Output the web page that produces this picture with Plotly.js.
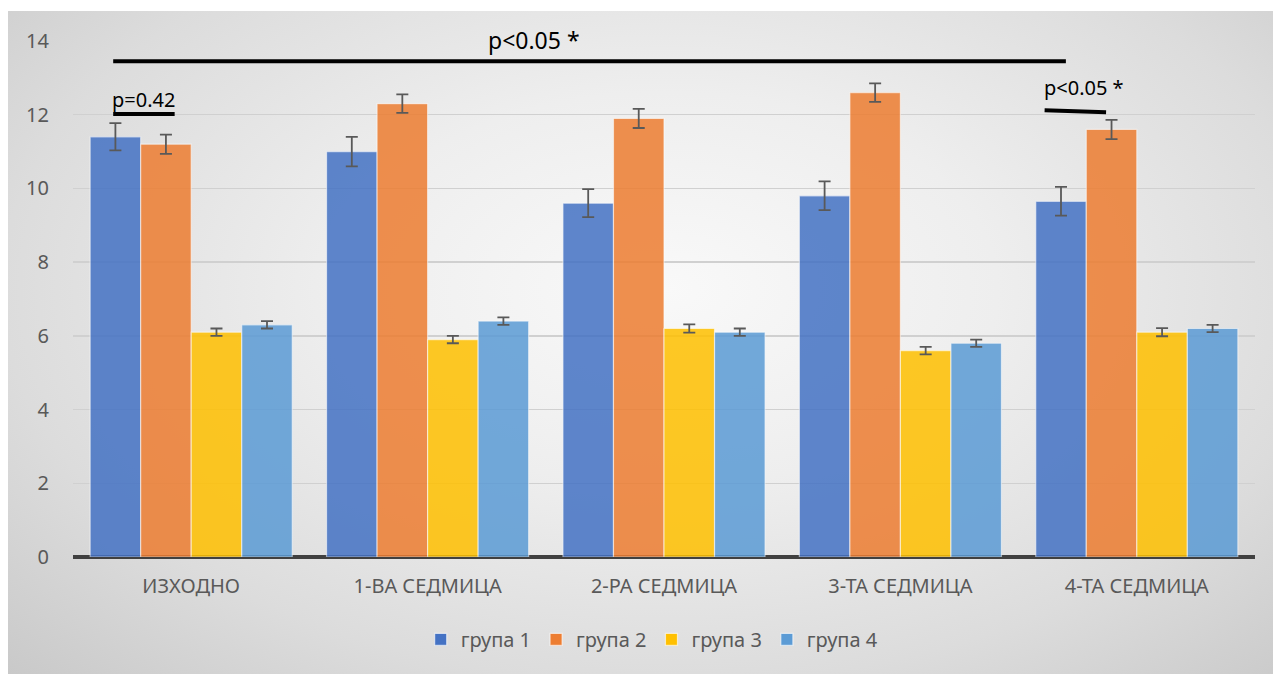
<!DOCTYPE html>
<html>
<head>
<meta charset="utf-8">
<script src="https://cdn.plot.ly/plotly-3.0.1.min.js"></script>
<style>
  html, body { margin: 0; padding: 0; background: #ffffff; }
  #wrap { position: relative; width: 1273px; height: 674px; overflow: hidden; }
  #bg { position: absolute; left: 8px; top: 11px; width: 1265px; height: 663px;
        background: radial-gradient(ellipse 75% 85% at 52% 42%, #f9f9f9 0%, #eeeeee 35%, #dcdcdc 70%, #c7c7c7 100%); }
  #chart { position: absolute; left: 0; top: 0; width: 1273px; height: 674px; }
</style>
</head>
<body>
<div id="wrap"><div id="bg"></div><div id="chart"></div></div>
<script>
const categories = ['ИЗХОДНО', '1-ВА СЕДМИЦА', '2-РА СЕДМИЦА', '3-ТА СЕДМИЦА', '4-ТА СЕДМИЦА'];
const seriesNames = ['група 1', 'група 2', 'група 3', 'група 4'];
const group1 = [11.4, 11.0, 9.6, 9.8, 9.65];
const group2 = [11.2, 12.3, 11.9, 12.6, 11.6];
const group3 = [6.1, 5.9, 6.2, 5.6, 6.1];
const group4 = [6.3, 6.4, 6.1, 5.8, 6.2];
const err1 = [0.37, 0.4, 0.38, 0.39, 0.39];
const err2 = [0.26, 0.25, 0.26, 0.25, 0.26];
const err3 = [0.1, 0.1, 0.11, 0.1, 0.11];
const err4 = [0.1, 0.1, 0.1, 0.1, 0.1];
const colors = ['#4472c4', '#ed7d31', '#ffc000', '#5b9bd5'];

const values = [group1, group2, group3, group4];
const errs = [err1, err2, err3, err4];

const traces = values.map((v, i) => ({
  type: 'bar',
  name: seriesNames[i],
  x: categories,
  y: v,
  marker: { color: colors[i], opacity: 0.85, line: { color: 'rgba(255,255,255,0.6)', width: 1.2 } },
  error_y: { type: 'data', array: errs[i], visible: true, color: '#595959', thickness: 1.8, width: 6 },
  hoverinfo: 'skip'
}));

const fam = 'Noto Sans, Open Sans, sans-serif';
const font = { family: fam, color: '#595959', size: 20 };

const layout = {
  width: 1273, height: 674,
  paper_bgcolor: 'rgba(0,0,0,0)',
  plot_bgcolor: 'rgba(0,0,0,0)',
  margin: { l: 73, r: 18, t: 41, b: 117 },
  barmode: 'group',
  bargap: 0.145,
  bargroupgap: 0.0,
  font: font,
  showlegend: true,
  legend: { orientation: 'h', x: 0.49, xanchor: 'center', y: -0.122, yanchor: 'top',
            font: { family: fam, size: 20, color: '#595959' }, traceorder: 'normal',
            itemwidth: 30, bgcolor: 'rgba(0,0,0,0)' },
  xaxis: { type: 'category', showgrid: false, showline: false, zeroline: false,
           ticks: '', tickfont: { family: fam, size: 20, color: '#595959' },
           ticklabelstandoff: 15 },
  yaxis: { range: [0, 14], dtick: 2, showgrid: true, gridcolor: '#d0d0d0', gridwidth: 1.5,
           zeroline: true, zerolinecolor: '#404040', zerolinewidth: 3.5, showline: false,
           ticks: '', tickfont: { family: fam, size: 20, color: '#595959' },
           ticklabelstandoff: 23 },
  shapes: [
    { type: 'line', xref: 'x', yref: 'y', x0: -0.33, x1: 3.7, y0: 13.45, y1: 13.45,
      line: { color: '#000000', width: 4 } },
    { type: 'line', xref: 'x', yref: 'y', x0: -0.33, x1: -0.07, y0: 12.02, y1: 12.02,
      line: { color: '#000000', width: 4 } },
    { type: 'line', xref: 'x', yref: 'y', x0: 3.61, x1: 3.87, y0: 12.12, y1: 12.07,
      line: { color: '#000000', width: 4 } }
  ],
  annotations: [
    { xref: 'x', yref: 'paper', x: 1.45, y: 1.002, text: 'p<0.05 *', showarrow: false,
      font: { family: fam, size: 23, color: '#000000' }, xanchor: 'center', yanchor: 'middle' },
    { xref: 'x', yref: 'y', x: -0.345, y: 12.42, text: 'p=0.42', showarrow: false,
      font: { family: fam, size: 20, color: '#000000' }, xanchor: 'left', yanchor: 'middle' },
    { xref: 'x', yref: 'y', x: 3.6, y: 12.73, text: 'p<0.05 *', showarrow: false,
      font: { family: fam, size: 20, color: '#000000' }, xanchor: 'left', yanchor: 'middle' }
  ]
};

Plotly.newPlot('chart', traces, layout, { displayModeBar: false, staticPlot: true });
</script>
</body>
</html>
